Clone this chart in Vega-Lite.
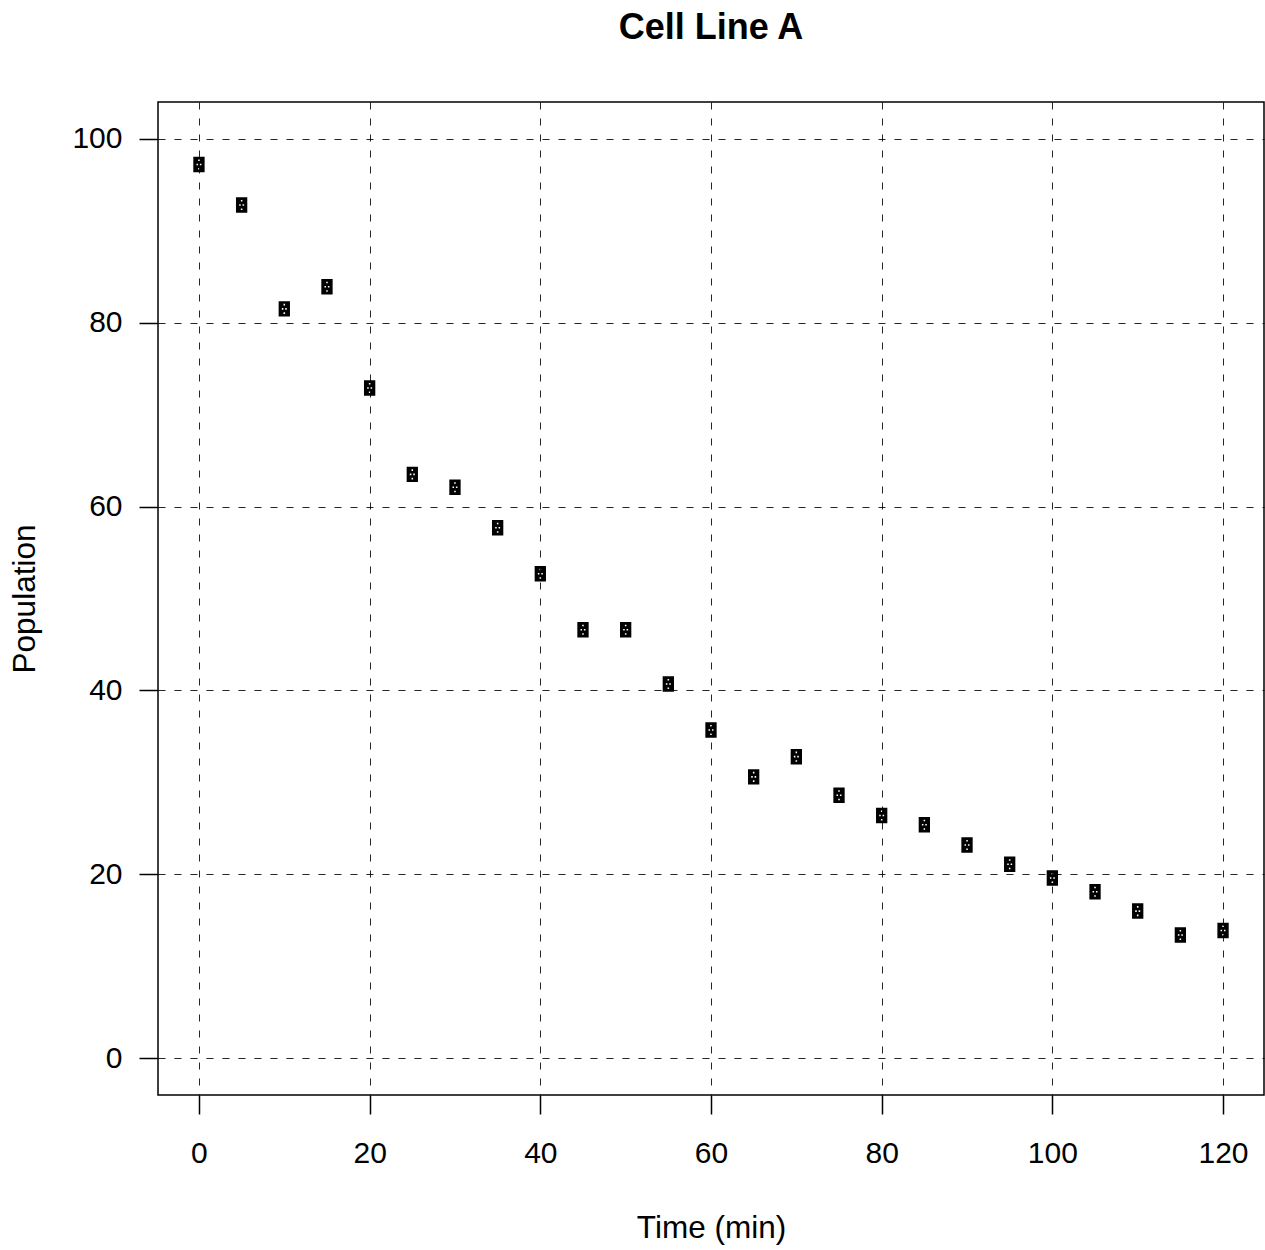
{
  "$schema": "https://vega.github.io/schema/vega-lite/v6.json",
  "autosize": {"type": "none"},
  "width": 1106,
  "height": 993,
  "padding": {"left": 158, "top": 102, "right": 1, "bottom": 155},
  "background": "white",
  "title": {
    "text": "Cell Line A",
    "font": "Liberation Sans",
    "fontSize": 36,
    "fontWeight": "bold",
    "color": "black",
    "anchor": "middle",
    "baseline": "alphabetic",
    "offset": 27
  },
  "data": {
    "values": [
      {"time": 0, "population": 97.2},
      {"time": 5, "population": 92.8},
      {"time": 10, "population": 81.5},
      {"time": 15, "population": 83.9},
      {"time": 20, "population": 72.9},
      {"time": 25, "population": 63.5},
      {"time": 30, "population": 62.1},
      {"time": 35, "population": 57.7},
      {"time": 40, "population": 52.7},
      {"time": 45, "population": 46.6},
      {"time": 50, "population": 46.6},
      {"time": 55, "population": 40.7},
      {"time": 60, "population": 35.7},
      {"time": 65, "population": 30.6},
      {"time": 70, "population": 32.8},
      {"time": 75, "population": 28.6},
      {"time": 80, "population": 26.4},
      {"time": 85, "population": 25.4},
      {"time": 90, "population": 23.2},
      {"time": 95, "population": 21.1},
      {"time": 100, "population": 19.6},
      {"time": 105, "population": 18.1},
      {"time": 110, "population": 16.0},
      {"time": 115, "population": 13.4},
      {"time": 120, "population": 13.9}
    ]
  },
  "mark": {
    "type": "point",
    "filled": true,
    "color": "black",
    "opacity": 1,
    "size": 240,
    "shape": "M-0.73,-1L0.73,-1L0.73,1L-0.73,1Z M-0.1,-0.65L-0.1,-0.45L0.1,-0.45L0.1,-0.65Z M-0.32,-0.1L-0.32,0.1L-0.12,0.1L-0.12,-0.1Z M0.12,-0.1L0.12,0.1L0.32,0.1L0.32,-0.1Z M-0.1,0.45L-0.1,0.65L0.1,0.65L0.1,0.45Z"
  },
  "encoding": {
    "x": {
      "field": "time",
      "type": "quantitative",
      "title": "Time (min)",
      "scale": {"domain": [-4.8, 124.8], "nice": false, "zero": false},
      "axis": {"values": [0, 20, 40, 60, 80, 100, 120], "titlePadding": 44, "labelPadding": 24}
    },
    "y": {
      "field": "population",
      "type": "quantitative",
      "title": "Population",
      "scale": {"domain": [-4, 104], "nice": false, "zero": false},
      "axis": {"values": [0, 20, 40, 60, 80, 100], "titlePadding": 30, "labelPadding": 17}
    }
  },
  "config": {
    "view": {"stroke": "black", "strokeWidth": 1.5},
    "axis": {
      "domain": false,
      "grid": true,
      "gridColor": "black",
      "gridDash": [7, 9],
      "gridWidth": 1,
      "gridOpacity": 0.85,
      "ticks": true,
      "tickColor": "black",
      "tickWidth": 1.5,
      "tickSize": 19,
      "labelFont": "Liberation Sans",
      "labelFontSize": 30,
      "labelColor": "black",
      "titleFont": "Liberation Sans",
      "titleFontSize": 31.5,
      "titleFontWeight": "normal",
      "titleColor": "black"
    }
  }
}
